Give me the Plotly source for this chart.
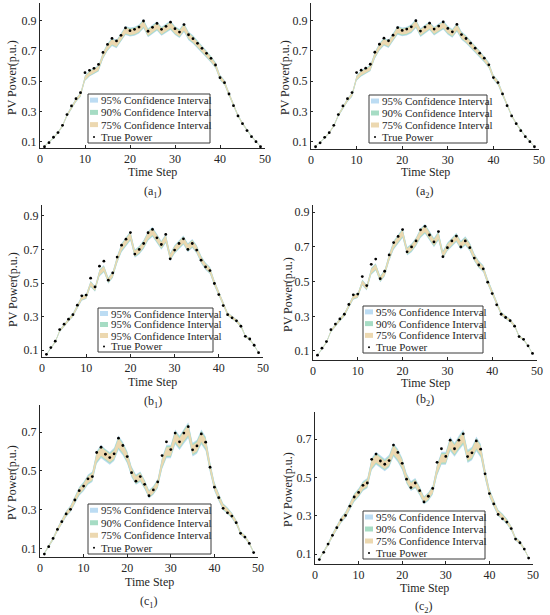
import plotly.graph_objects as go

# time steps and true / predicted PV power for the three test days
steps = list(range(1, 50))

true_a = [0.067, 0.093, 0.129, 0.160, 0.208, 0.279, 0.336, 0.384, 0.424, 0.556,
          0.572, 0.585, 0.611, 0.690, 0.743, 0.783, 0.766, 0.803, 0.852, 0.834,
          0.843, 0.858, 0.898, 0.830, 0.856, 0.882, 0.843, 0.863, 0.890, 0.847,
          0.825, 0.874, 0.807, 0.781, 0.750, 0.717, 0.684, 0.651, 0.607, 0.523,
          0.490, 0.415, 0.338, 0.270, 0.219, 0.173, 0.133, 0.100, 0.067]
pred_a = [0.070, 0.095, 0.125, 0.160, 0.205, 0.275, 0.330, 0.375, 0.410, 0.520,
          0.550, 0.565, 0.585, 0.670, 0.725, 0.760, 0.745, 0.790, 0.835, 0.825,
          0.830, 0.845, 0.880, 0.820, 0.840, 0.865, 0.830, 0.850, 0.870, 0.835,
          0.815, 0.855, 0.800, 0.775, 0.745, 0.710, 0.678, 0.645, 0.605, 0.525,
          0.490, 0.415, 0.340, 0.272, 0.220, 0.175, 0.135, 0.102, 0.068]

true_b = [0.076, 0.116, 0.154, 0.223, 0.255, 0.285, 0.312, 0.368, 0.424, 0.428,
          0.529, 0.477, 0.600, 0.630, 0.517, 0.560, 0.654, 0.725, 0.761, 0.800,
          0.672, 0.700, 0.735, 0.799, 0.819, 0.769, 0.729, 0.789, 0.644, 0.696,
          0.735, 0.763, 0.700, 0.735, 0.696, 0.636, 0.596, 0.574, 0.497, 0.431,
          0.366, 0.312, 0.293, 0.275, 0.243, 0.183, 0.167, 0.130, 0.086]
pred_b = [0.075, 0.110, 0.150, 0.215, 0.250, 0.280, 0.310, 0.360, 0.410, 0.420,
          0.495, 0.465, 0.560, 0.585, 0.515, 0.550, 0.640, 0.710, 0.745, 0.780,
          0.675, 0.695, 0.730, 0.780, 0.805, 0.765, 0.725, 0.765, 0.655, 0.700,
          0.730, 0.755, 0.710, 0.735, 0.700, 0.640, 0.600, 0.575, 0.500, 0.435,
          0.370, 0.315, 0.295, 0.275, 0.245, 0.185, 0.165, 0.130, 0.085]

true_c = [0.071, 0.109, 0.152, 0.198, 0.238, 0.278, 0.302, 0.350, 0.398, 0.422,
          0.459, 0.471, 0.595, 0.622, 0.586, 0.569, 0.588, 0.669, 0.631, 0.574,
          0.491, 0.447, 0.471, 0.431, 0.372, 0.402, 0.443, 0.579, 0.650, 0.610,
          0.695, 0.650, 0.695, 0.728, 0.609, 0.629, 0.691, 0.648, 0.519, 0.416,
          0.362, 0.307, 0.284, 0.267, 0.233, 0.178, 0.159, 0.126, 0.079]
pred_c = [0.075, 0.110, 0.150, 0.198, 0.238, 0.278, 0.305, 0.350, 0.395, 0.420,
          0.455, 0.470, 0.570, 0.600, 0.580, 0.565, 0.585, 0.645, 0.615, 0.570,
          0.495, 0.455, 0.470, 0.430, 0.380, 0.400, 0.435, 0.540, 0.600, 0.600,
          0.675, 0.645, 0.680, 0.710, 0.610, 0.625, 0.675, 0.640, 0.520, 0.420,
          0.365, 0.315, 0.295, 0.270, 0.235, 0.180, 0.160, 0.127, 0.080]

# relative half-widths of the 95 / 90 / 75 % intervals
spread_a1 = [0.036, 0.030, 0.023]
spread_a2 = [0.035, 0.029, 0.022]
spread_b1 = [0.037, 0.031, 0.024]
spread_b2 = [0.036, 0.030, 0.023]
spread_c1 = [0.058, 0.048, 0.037]
spread_c2 = [0.057, 0.047, 0.036]

labels_std = ['95% Confidence Interval', '90% Confidence Interval',
              '75% Confidence Interval', 'True Power']
labels_b1 = ['95% Confidence Interval', '95% Confidence Interval',
             '95% Confidence Interval', 'True Power']

x_ticks = [0, 10, 20, 30, 40, 50]
y_ticks_ab = [0.1, 0.3, 0.5, 0.7, 0.9]
y_ticks_c = [0.1, 0.3, 0.5, 0.7]

band_colors = ['#bcdcf3', '#a6dcc4', '#ecd8b0']
FONT = 'Liberation Serif, Times New Roman, DejaVu Serif, serif'
AX = '#262626'
W, H = 550, 615


def px(x):
    return x / W


def py(y):
    return 1 - y / H


def note(text, x, y, size, **kw):
    # paper-anchored text, explicitly centred unless told otherwise
    d = dict(text=text, x=px(x), y=py(y), xref='paper', yref='paper', showarrow=False,
             xanchor='center', yanchor='middle', font=dict(family=FONT, size=size, color=AX))
    d.update(kw)
    return d


# box = (left, top, right, bottom) in pixels, leg = legend box in pixels
panels = [
    dict(tag='(a<sub>1</sub>)', true=true_a, pred=pred_a, spread=spread_a1, labels=labels_std,
         box=(40, 3, 265, 148), yr=(0.058, 1.017), yt=y_ticks_ab,
         leg=(88, 94, 210, 143), xt=172, tt=192, yl=(12, 78)),
    dict(tag='(a<sub>2</sub>)', true=true_a, pred=pred_a, spread=spread_a2, labels=labels_std,
         box=(311, 3, 539, 149), yr=(0.052, 1.015), yt=y_ticks_ab,
         leg=(369, 95, 487, 143), xt=172, tt=192, yl=(285, 78)),
    dict(tag='(b<sub>1</sub>)', true=true_b, pred=pred_b, spread=spread_b1, labels=labels_b1,
         box=(42, 205, 263, 357), yr=(0.06, 0.964), yt=y_ticks_ab,
         leg=(98, 308, 213, 352), xt=382, tt=402, yl=(13, 290)),
    dict(tag='(b<sub>2</sub>)', true=true_b, pred=pred_b, spread=spread_b2, labels=labels_std,
         box=(313, 205, 537, 360), yr=(0.048, 0.942), yt=y_ticks_ab,
         leg=(363, 306, 483, 353), xt=383, tt=400, yl=(288, 295)),
    dict(tag='(c<sub>1</sub>)', true=true_c, pred=pred_c, spread=spread_c1, labels=labels_std,
         box=(40, 405, 258, 557), yr=(0.056, 0.84), yt=y_ticks_c,
         leg=(88, 504, 211, 554), xt=582, tt=602, yl=(12, 483)),
    dict(tag='(c<sub>2</sub>)', true=true_c, pred=pred_c, spread=spread_c2, labels=labels_std,
         box=(315, 412, 533, 564), yr=(0.048, 0.842), yt=y_ticks_c,
         leg=(363, 511, 485, 559), xt=588, tt=607, yl=(288, 490)),
]

fig = go.Figure()
layout = {}
shapes = []
annotations = []

for i, p in enumerate(panels):
    n = '' if i == 0 else str(i + 1)
    xa, ya = 'x' + n, 'y' + n
    left, top, right, bottom = p['box']

    # nested confidence bands
    for k in range(3):
        lo = [v * (1 - p['spread'][k]) for v in p['pred']]
        hi = [v * (1 + p['spread'][k]) for v in p['pred']]
        fig.add_trace(go.Scatter(x=steps, y=lo, mode='lines', line=dict(width=0),
                                 xaxis=xa, yaxis=ya, showlegend=False, hoverinfo='skip'))
        fig.add_trace(go.Scatter(x=steps, y=hi, mode='lines', line=dict(width=0),
                                 fill='tonexty', fillcolor=band_colors[k],
                                 xaxis=xa, yaxis=ya, showlegend=False, hoverinfo='skip'))
    fig.add_trace(go.Scatter(x=steps, y=p['true'], mode='markers',
                             marker=dict(size=2.8, color='black'),
                             xaxis=xa, yaxis=ya, showlegend=False))

    layout['xaxis' + n] = dict(
        domain=[px(left), px(right)], anchor=ya, range=[0, 50], tickvals=x_ticks,
        automargin=False, showgrid=False, zeroline=False, showline=True, linecolor=AX,
        linewidth=1, ticks='inside', ticklen=3, tickcolor=AX,
        tickfont=dict(family=FONT, size=12, color=AX))
    layout['yaxis' + n] = dict(
        domain=[py(bottom), py(top)], anchor=xa, range=list(p['yr']), tickvals=p['yt'],
        tickformat='.1f', automargin=False, showgrid=False, zeroline=False, showline=True,
        linecolor=AX, linewidth=1, ticks='inside', ticklen=2, tickcolor=AX,
        tickfont=dict(family=FONT, size=12, color=AX))

    cx = (left + right) / 2
    annotations.append(note('Time Step', cx, p['xt'], 12))
    annotations.append(note(p['tag'], cx, p['tt'], 12))
    annotations.append(note('PV Power(p.u.)', p['yl'][0], p['yl'][1], 12, textangle=-90))

    # hand-drawn legend box
    lx0, ly0, lx1, ly1 = p['leg']
    shapes.append(dict(type='rect', xref='paper', yref='paper', x0=px(lx0), x1=px(lx1),
                       y0=py(ly1), y1=py(ly0), fillcolor='white',
                       line=dict(color='#3a3a3a', width=1)))
    row_h = (ly1 - ly0) / 4
    for r, lab in enumerate(p['labels']):
        ry = ly0 + row_h * (r + 0.5)
        if r < 3:
            shapes.append(dict(type='rect', xref='paper', yref='paper',
                               x0=px(lx0 + 2), x1=px(lx0 + 10), y0=py(ry + 2.5), y1=py(ry - 2.5),
                               fillcolor=band_colors[r], line=dict(width=0)))
        else:
            shapes.append(dict(type='circle', xref='paper', yref='paper',
                               x0=px(lx0 + 5), x1=px(lx0 + 7), y0=py(ry + 1), y1=py(ry - 1),
                               fillcolor='black', line=dict(width=0)))
        annotations.append(note(lab, lx0 + 11, ry, 11, xanchor='left'))

fig.update_layout(
    template='none', width=W, height=H, margin=dict(l=0, r=0, t=0, b=0, pad=0),
    font=dict(family=FONT, color=AX),
    plot_bgcolor='white', paper_bgcolor='white', showlegend=False,
    shapes=shapes, annotations=annotations, **layout)

# drop the browser's default page margin so the figure sits at the window corner
fig.write_html("out.html", config={'displayModeBar': False},
               post_script="document.body.style.margin='0';document.body.style.overflow='hidden';")
